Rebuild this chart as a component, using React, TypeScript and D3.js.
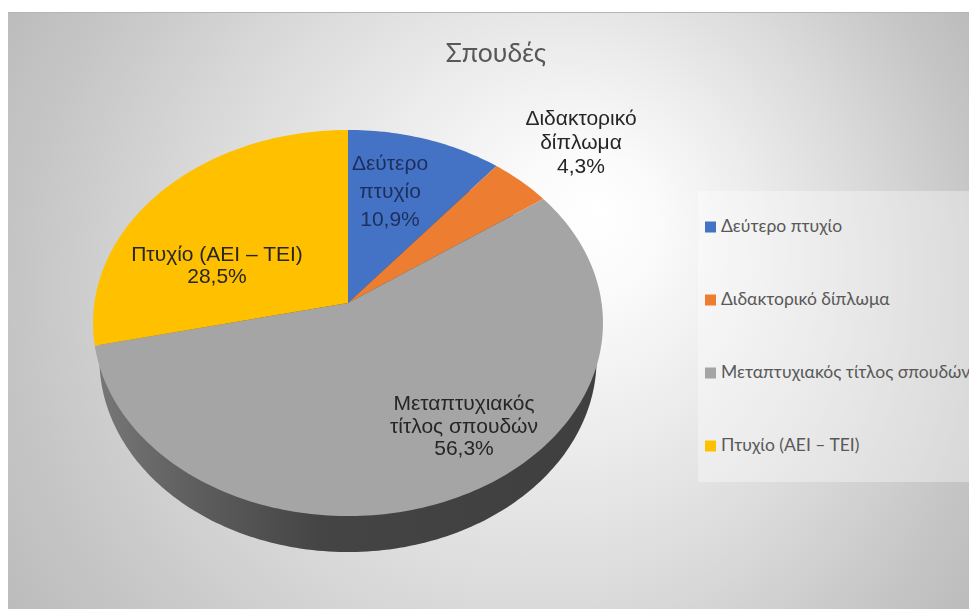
import * as d3 from 'd3';

const categories = ['Δεύτερο πτυχίο', 'Διδακτορικό δίπλωμα', 'Μεταπτυχιακός τίτλος σπουδών', 'Πτυχίο (ΑΕΙ – ΤΕΙ)'];
const shares = [10.9, 4.3, 56.3, 28.5];
const colors = ['#4472c4', '#ed7d31', '#a5a5a5', '#ffc000'];
const dataLabels = [
    ['Δεύτερο', 'πτυχίο', '10,9%'],
    ['Διδακτορικό', 'δίπλωμα', '4,3%'],
    ['Μεταπτυχιακός', 'τίτλος σπουδών', '56,3%'],
    ['Πτυχίο  (ΑΕΙ – ΤΕΙ)', '28,5%'],
];
const labelAnchors = [[390, 170], [581, 125], [464, 410], [217, 261]];
const labelLeading = [28, 24, 22.5, 22];
const chartTitle = 'Σπουδές';

const W = 969;
const H = 609;
const cx = 348;
const cy = 303;
const radiusX = 253.6;
const radiusY = 191;
const tilt = 0.1036;
const depth = 36;

// tilted disc: angle from 12 o'clock, clockwise
const project = (a: number): [number, number] => {
    const u = Math.sin(a);
    const v = -Math.cos(a);
    const k = 1 - tilt * v;
    return [cx + (radiusX * u) / k, cy + (radiusY * v) / k];
};

const sampleArc = (a0: number, a1: number) => {
    const n = Math.max(2, Math.ceil(Math.abs(a1 - a0) / 0.02));
    const angle = d3.scaleLinear().domain([0, n]).range([a0, a1]);
    return d3.range(n + 1).map((i) => project(angle(i)));
};

const line = d3.line();
const pie = d3.pie<number>().sort(null)(shares);

const slicePaths = pie.map(
    (p) => line([[cx, cy], ...sampleArc(p.startAngle, p.endAngle)]) + 'Z'
);

// the wall is a slightly smaller disc pushed down behind the top face
const basePath =
    line(
        sampleArc(0, Math.PI * 2).map(([x, y]): [number, number] => [
            cx + (x - cx) * 0.975,
            y + depth,
        ])
    ) + 'Z';

const legendY = d3.scalePoint<string>().domain(categories).range([227, 446]);

function App() {
    return (
        <svg
            width={W}
            height={H}
            style={{ position: 'absolute', left: 0, top: 0, background: '#fff' }}
        >
            <defs>
                <radialGradient
                    id='bg'
                    gradientUnits='userSpaceOnUse'
                    cx={488}
                    cy={310}
                    r={565}
                    fx={600}
                    fy={210}
                >
                    <stop offset='0' stopColor='#ffffff' />
                    <stop offset='0.12' stopColor='#fbfbfb' />
                    <stop offset='0.35' stopColor='#ececec' />
                    <stop offset='0.6' stopColor='#dadada' />
                    <stop offset='0.85' stopColor='#c6c6c6' />
                    <stop offset='1' stopColor='#bcbcbc' />
                </radialGradient>
                <linearGradient
                    id='rim'
                    gradientUnits='userSpaceOnUse'
                    x1={cx - 255}
                    x2={cx + 255}
                    y1={0}
                    y2={0}
                >
                    <stop offset='0' stopColor='#787878' />
                    <stop offset='0.2' stopColor='#5e5e5e' />
                    <stop offset='0.45' stopColor='#444444' />
                    <stop offset='1' stopColor='#3f3f3f' />
                </linearGradient>
                <filter id='soft' x='-5%' y='-5%' width='110%' height='110%'>
                    <feGaussianBlur stdDeviation='0.45' />
                </filter>
            </defs>

            <rect x={8} y={12} width={W - 8} height={H - 12} fill='url(#bg)' />
            <line x1={8} x2={W} y1={12.5} y2={12.5} stroke='#b5b5b5' />

            <path d={basePath} fill='url(#rim)' />
            {slicePaths.map((d, i) => (
                <path key={categories[i]} d={d} fill={colors[i]} />
            ))}

            <text
                x={496}
                y={62}
                textAnchor='middle'
                fontFamily='Lato, Open Sans'
                fontSize={26.5}
                fill='#595959'
                filter='url(#soft)'
            >
                {chartTitle}
            </text>

            <g filter='url(#soft)'>
                {dataLabels.map((lines, i) => (
                    <text
                        key={i}
                        textAnchor='middle'
                        fontFamily='Liberation Sans'
                        fontSize={21}
                        fill={i === 0 ? '#1f2f5c' : '#262626'}
                    >
                        {lines.map((t, j) => (
                            <tspan
                                key={j}
                                x={labelAnchors[i][0]}
                                y={labelAnchors[i][1] + j * labelLeading[i]}
                            >
                                {t}
                            </tspan>
                        ))}
                    </text>
                ))}
            </g>

            <rect x={698} y={191} width={W - 698} height={291} fill='#ffffff' fillOpacity={0.35} />
            {categories.map((c, i) => (
                <g key={c} transform={`translate(705, ${legendY(c)})`}>
                    <rect x={0} y={-5.5} width={11} height={11} fill={colors[i]} />
                    <text
                        x={16}
                        y={5}
                        fontFamily='Lato, Open Sans'
                        fontSize={17.5}
                        fill='#595959'
                    >
                        {c}
                    </text>
                </g>
            ))}
        </svg>
    );
}

export default App;
